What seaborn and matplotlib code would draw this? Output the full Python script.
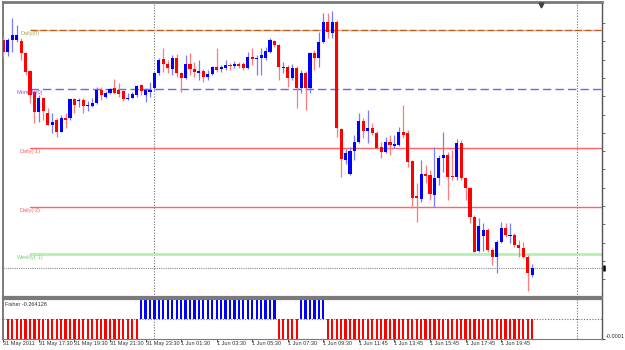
import numpy as np
import pandas as pd
import matplotlib
matplotlib.use("Agg")
import matplotlib.pyplot as plt
import matplotlib.transforms as mtransforms
import seaborn as sns

# ---------------- data (M15 candles, price in chart points) ----------------
opens = [260, 248, 260, 260, 259, 247, 229, 208, 188, 202,
         187, 175, 180, 168, 182, 182, 201, 199, 200, 194,
         194, 197, 210, 203, 207, 212, 210, 209, 201, 202,
         205, 215, 205, 208, 212, 227, 241, 236, 231, 242,
         227, 222, 236, 231, 227, 229, 223, 226, 233, 231,
         232, 235, 234, 236, 236, 232, 243, 241, 242, 242,
         248, 259, 255, 232, 233, 222, 232, 212, 227, 212,
         247, 242, 258, 278, 267, 278, 171, 140, 126, 149,
         158, 179, 169, 172, 167, 153, 148, 158, 154, 155,
         168, 167, 139, 104, 101, 126, 125, 105, 122, 142,
         145, 124, 123, 157, 122, 112, 83, 49, 64, 70,
         50, 43, 58, 72, 64, 65, 55, 52, 43, 25]
highs = [263, 262, 282, 275, 262, 248, 230, 210, 205, 203,
         192, 187, 182, 185, 187, 202, 202, 202, 202, 199,
         202, 213, 213, 209, 212, 221, 217, 210, 207, 208,
         215, 216, 212, 218, 228, 242, 252, 240, 245, 246,
         228, 245, 247, 238, 240, 231, 230, 234, 252, 235,
         240, 237, 239, 238, 238, 248, 252, 245, 252, 253,
         262, 260, 256, 238, 235, 236, 234, 230, 229, 248,
         250, 268, 287, 287, 289, 280, 172, 151, 153, 165,
         187, 182, 190, 177, 169, 158, 163, 165, 165, 173,
         195, 170, 140, 117, 140, 135, 130, 153, 145, 168,
         148, 150, 161, 160, 123, 113, 85, 82, 77, 72,
         52, 60, 78, 77, 77, 67, 60, 58, 45, 36]
lows = [243, 244, 248, 258, 240, 225, 197, 177, 178, 180,
        175, 167, 163, 168, 172, 180, 187, 193, 187, 189,
        193, 196, 200, 202, 206, 206, 203, 199, 200, 202,
        203, 205, 198, 203, 210, 225, 228, 227, 225, 223,
        208, 221, 225, 223, 220, 218, 220, 225, 228, 228,
        230, 230, 232, 232, 230, 231, 235, 225, 225, 240,
        247, 253, 220, 227, 213, 220, 192, 207, 190, 207,
        230, 233, 257, 262, 262, 163, 123, 136, 125, 140,
        157, 162, 157, 165, 152, 142, 147, 145, 152, 154,
        162, 133, 92, 78, 98, 117, 100, 93, 115, 128,
        100, 120, 120, 120, 100, 77, 48, 48, 49, 48,
        35, 27, 57, 63, 57, 53, 43, 42, 9, 23]
closes = [248, 260, 265, 265, 247, 228, 205, 188, 202, 189,
          175, 178, 168, 182, 180, 201, 195, 200, 194, 195,
          197, 210, 205, 207, 211, 207, 206, 201, 202, 206,
          214, 209, 210, 210, 227, 240, 236, 232, 242, 227,
          222, 236, 231, 228, 229, 223, 226, 233, 230, 233,
          235, 234, 236, 234, 232, 243, 241, 242, 245, 249,
          260, 255, 233, 233, 222, 232, 212, 227, 212, 247,
          242, 258, 278, 268, 278, 172, 141, 147, 149, 158,
          179, 169, 172, 167, 152, 148, 158, 155, 156, 168,
          165, 138, 102, 102, 126, 124, 106, 122, 142, 145,
          123, 123, 157, 122, 112, 83, 48, 74, 70, 50,
          43, 58, 72, 65, 65, 55, 52, 43, 27, 32]

# Fisher histogram direction per candle (+1 up / -1 down), clipped by the pane scale
fisher = [-1, -1, -1, -1, -1, -1, -1, -1, -1, -1, -1, -1, -1, -1, -1, -1, -1, -1, -1, -1,
          -1, -1, -1, -1, -1, -1, -1, -1, -1, -1, -1, 1, 1, 1, 1, 1, 1, 1, 1, 1,
          1, 1, 1, 1, 1, 1, 1, 1, 1, 1, 1, 1, 1, 1, 1, 1, 1, 1, 1, 1,
          1, 1, -1, -1, -1, -1, -1, 1, 1, 1, 1, 1, 1, -1, -1, -1, -1, -1, -1, -1,
          -1, -1, -1, -1, -1, -1, -1, -1, -1, -1, -1, -1, -1, -1, -1, -1, -1, -1, -1, -1,
          -1, -1, -1, -1, -1, -1, -1, -1, -1, -1, -1, -1, -1, -1, -1, -1, -1, -1, -1, -1]
fisher_last = -0.264128

tick_idx = [0, 8, 16, 24, 32, 40, 48, 56, 64, 72, 80, 88, 96, 104, 112]
tick_labels = ["31 May 2011", "31 May 17:30", "31 May 19:30", "31 May 21:30",
               "31 May 23:30", "1 Jun 01:30", "1 Jun 03:30", "1 Jun 05:30",
               "1 Jun 07:30", "1 Jun 09:30", "1 Jun 11:45", "1 Jun 13:45",
               "1 Jun 15:45", "1 Jun 17:45", "1 Jun 19:45"]

level_names = ["Daily(0)", "Monthly(0)", "Daily(-1)", "Daily(-2)", "Weekly(-1)"]
level_values = [270, 211, 152, 93, 46]
bid_price = 32
day_separators = [34, 129]
level_start = 6.0

# ---------------- style ----------------
sns.set_theme(style="white")
plt.rcParams["font.family"] = ["Liberation Sans", "DejaVu Sans"]

W, H = 625, 350
fig = plt.figure(figsize=(W / 100, H / 100), dpi=100)
fig.patch.set_facecolor("white")

def px_axes(x0, y0, x1, y1):
    return fig.add_axes([x0 / W, 1 - y1 / H, (x1 - x0) / W, (y1 - y0) / H])

ax1 = px_axes(3, 2, 602, 297)
ax2 = px_axes(3, 299, 602, 339)

XMIN, XMAX = -0.07, 134.7
for ax in (ax1, ax2):
    ax.set_facecolor("white")
    ax.set_xlim(XMIN, XMAX)

# ---------------- main pane: candles ----------------
idx = np.arange(len(opens))
o = np.array(opens, float); h = np.array(highs, float)
l = np.array(lows, float); c = np.array(closes, float)
up = c >= o
bottom = np.minimum(o, c)
height = np.maximum(np.abs(c - o), 0.9)

ax1.vlines(idx[up], l[up], h[up], color="#7a7aff", lw=0.9, zorder=3)
ax1.vlines(idx[~up], l[~up], h[~up], color="#ff7a7a", lw=0.9, zorder=3)
ax1.bar(idx[up], height[up], bottom=bottom[up], width=0.7, color="#0000ff", linewidth=0, zorder=4)
ax1.bar(idx[~up], height[~up], bottom=bottom[~up], width=0.7, color="#ff0000", linewidth=0, zorder=4)

# level lines
styles = {
    "Daily(0)": dict(color="#b8601a", lw=1.0, ls=(0, (5, 2)), gapcolor="#ff9a9a"),
    "Monthly(0)": dict(color="#6464ff", lw=1.0, ls=(0, (6, 3))),
    "Daily(-1)": dict(color="#ff6464", lw=1.0, ls="-"),
    "Daily(-2)": dict(color="#ff6464", lw=1.0, ls="-"),
    "Weekly(-1)": dict(color="#b4f0b4", lw=2.0, ls="-"),
}
text_colors = {"Daily(0)": "#b0a060", "Monthly(0)": "#9a50f0", "Daily(-1)": "#ff6060",
               "Daily(-2)": "#ff6060", "Weekly(-1)": "#80d080"}
for name, val in zip(level_names, level_values):
    st = styles[name]
    kw = dict(color=st["color"], lw=st["lw"], linestyle=st["ls"], zorder=2)
    if "gapcolor" in st:
        kw["gapcolor"] = st["gapcolor"]
    ax1.plot([level_start, XMAX], [val, val], **kw)
    ax1.text(level_start, val - 0.8, name, ha="center", va="top", fontsize=4,
             color=text_colors[name], zorder=5)

# bid line and day separators
ax1.axhline(bid_price, color="#8c8c8c", lw=0.8, ls=(0, (1, 1)), zorder=1)
for d in day_separators:
    ax1.axvline(d, color="#707070", lw=0.8, ls=(0, (1, 1.5)), zorder=1)
    ax2.axvline(d, color="#707070", lw=0.8, ls=(0, (1, 1.5)), zorder=1)

ax1.set_ylim(3, 298)
ax1.set_xticks([])
ax1.yaxis.tick_right()
ax1.set_yticks(np.arange(277, 5, -18.3))
ax1.set_yticklabels([])
ax1.tick_params(axis="y", right=True, length=2.5, width=0.6, color="#505050", direction="out")

# markers: current price on right axis, chart-shift triangle on top
trans_r = mtransforms.blended_transform_factory(ax1.transAxes, ax1.transData)
ax1.plot([1.004], [bid_price], marker="|", markersize=5, mew=1.8, color="black",
         transform=trans_r, clip_on=False, zorder=6)
trans_t = mtransforms.blended_transform_factory(ax1.transData, ax1.transAxes)
ax1.plot([121], [0.99], marker="v", markersize=3.5, color="#404040",
         transform=trans_t, clip_on=False, zorder=6)

# ---------------- indicator pane: Fisher ----------------
df_f = pd.DataFrame({"i": idx, "v": fisher,
                     "dir": ["up" if v > 0 else "down" for v in fisher]})
ax2.axhline(0, color="#707070", lw=0.8, ls=(0, (1, 1.5)), zorder=0)
sns.barplot(data=df_f, x="i", y="v", hue="dir", palette={"up": "#0000ff", "down": "#ff0000"},
            native_scale=True, width=0.5, dodge=False, errorbar=None, legend=False,
            saturation=1, linewidth=0, ax=ax2, zorder=2)
ax2.set_xlim(XMIN, XMAX)
ax2.set_ylim(-0.0001, 0.0001)
ax2.set_xlabel(""); ax2.set_ylabel("")
ax2.text(0.004, 0.86, f"Fisher {fisher_last:.6f}", transform=ax2.transAxes,
         fontsize=4, color="#303030", ha="left", va="center")

ax2.set_xticks(tick_idx)
ax2.set_xticklabels(tick_labels, ha="left")
ax2.tick_params(axis="x", bottom=True, length=2.2, width=0.6, pad=-0.6,
                labelsize=4, colors="#303030", direction="out")
ax2.yaxis.tick_right()
ax2.set_yticks([-0.0001])
ax2.set_yticklabels(["-0.0001"], va="bottom")
ax2.tick_params(axis="y", right=True, length=2, width=0.6, pad=1, labelsize=4,
                colors="#303030", direction="out")

# frames
for ax in (ax1, ax2):
    for s in ax.spines.values():
        s.set_visible(True)
        s.set_color("#7a7a7a")
    ax.spines["left"].set_linewidth(1.4)
    ax.spines["right"].set_linewidth(1.0)
    ax.spines["right"].set_color("#555555")
ax1.spines["top"].set_linewidth(2.0)
ax1.spines["bottom"].set_linewidth(1.6)
ax2.spines["top"].set_linewidth(1.6)
ax2.spines["bottom"].set_linewidth(0.8)

fig.savefig("out.png", dpi=100)
